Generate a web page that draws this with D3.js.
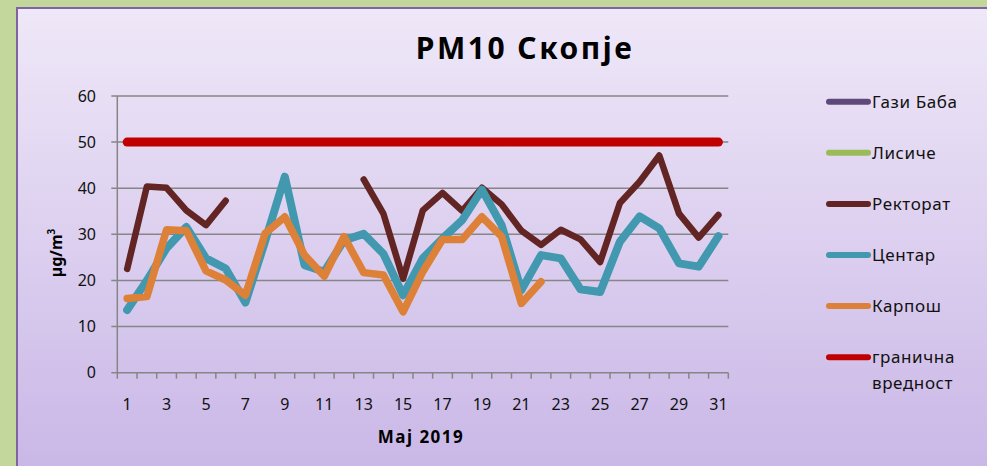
<!DOCTYPE html>
<html>
<head>
<meta charset="utf-8">
<script src="https://cdn.jsdelivr.net/npm/d3@7"></script>
<style>
  body { margin: 0; background: #c3d69b; }
  svg { display: block; font-family: "Comic Sans MS", "Noto Sans", sans-serif; }
</style>
</head>
<body>
<svg id="chart" width="987" height="466"></svg>
<script>
const days = d3.range(1, 32);
const yTicks = [0, 10, 20, 30, 40, 50, 60];

const gaziBaba = days.map(() => null);
const lisice = days.map(() => null);
const rektorat = [22.5, 40.4, 40.1, 35.2, 32.0, 37.3, null, null, null, null, null, null,
  41.9, 34.5, 20.4, 35.2, 39.0, 35.1, 40.1, 36.5, 30.8, 27.7, 31.0, 28.9, 24.0, 36.8,
  41.4, 47.1, 34.5, 29.3, 34.2];
const centar = [13.6, 20.0, 27.0, 31.6, 24.8, 22.6, 15.2, 28.5, 42.5, 23.3, 21.9, 28.7,
  30.1, 25.8, 16.8, 24.8, 29.1, 33.1, 39.7, 32.0, 17.9, 25.5, 24.8, 18.1, 17.5, 28.4,
  33.9, 31.3, 23.7, 23.0, 29.6];
const karpos = [16.1, 16.5, 31.0, 30.8, 22.1, 20.1, 16.8, 30.2, 33.8, 25.5, 20.9, 29.5,
  21.7, 21.2, 13.2, 21.9, 28.9, 28.9, 33.8, 29.5, 15.0, 19.7, null, null, null, null,
  null, null, null, null, null];
const limit = days.map(() => 50);

const series = [
  { name: "Гази Баба", values: gaziBaba, color: "#5f497a", width: 7 },
  { name: "Лисиче", values: lisice, color: "#9bbb59", width: 7 },
  { name: "Ректорат", values: rektorat, color: "#632523", width: 6.5 },
  { name: "Центар", values: centar, color: "#4198af", width: 8 },
  { name: "Карпош", values: karpos, color: "#dd8139", width: 7.5 },
  { name: "гранична|вредност", values: limit, color: "#c00000", width: 9 },
];

const svg = d3.select("#chart");

// panel background
const defs = svg.append("defs");
const grad = defs.append("linearGradient").attr("id", "bg")
  .attr("x1", 0).attr("y1", 0).attr("x2", 0).attr("y2", 1);
grad.append("stop").attr("offset", "0%").attr("stop-color", "#efe8f8");
grad.append("stop").attr("offset", "100%").attr("stop-color", "#c8b5e6");

svg.append("rect")
  .attr("x", 17).attr("y", 8).attr("width", 990).attr("height", 480)
  .attr("fill", "url(#bg)")
  .attr("stroke", "#8064a2").attr("stroke-width", 2);

const plotLeft = 117.3, plotRight = 728.3, plotTop = 96, plotBottom = 372.7;

const x = d3.scaleBand().domain(days).range([plotLeft, plotRight]);
const y = d3.scaleLinear().domain([0, 60]).range([plotBottom, plotTop]);

// gridlines
svg.append("g")
  .selectAll("line")
  .data(yTicks)
  .join("line")
  .attr("x1", plotLeft - 6).attr("x2", plotRight)
  .attr("y1", (d) => y(d)).attr("y2", (d) => y(d))
  .attr("stroke", "#868686").attr("stroke-width", 1.5);

// y axis line
svg.append("line")
  .attr("x1", plotLeft).attr("x2", plotLeft).attr("y1", plotTop).attr("y2", plotBottom)
  .attr("stroke", "#868686").attr("stroke-width", 1.5);

// x ticks at band edges
svg.append("g")
  .selectAll("line")
  .data(d3.range(0, 32))
  .join("line")
  .attr("x1", (i) => plotLeft + i * x.step()).attr("x2", (i) => plotLeft + i * x.step())
  .attr("y1", plotBottom).attr("y2", plotBottom + 6)
  .attr("stroke", "#868686").attr("stroke-width", 1.5);

// y tick labels
svg.append("g")
  .selectAll("text")
  .data(yTicks)
  .join("text")
  .attr("x", 96).attr("y", (d) => y(d))
  .attr("dy", "0.35em")
  .attr("text-anchor", "end")
  .attr("font-size", 16)
  .attr("fill", "#111")
  .text((d) => d);

// x tick labels (odd days)
svg.append("g")
  .selectAll("text")
  .data(days.filter((d) => d % 2 === 1))
  .join("text")
  .attr("x", (d) => x(d) + x.bandwidth() / 2).attr("y", 410)
  .attr("text-anchor", "middle")
  .attr("font-size", 16)
  .attr("fill", "#111")
  .text((d) => d);

// axis titles
svg.append("text")
  .attr("x", 421).attr("y", 443)
  .attr("text-anchor", "middle")
  .attr("font-size", 17).attr("font-weight", "bold")
  .attr("letter-spacing", 1.5)
  .text("Maj 2019");

svg.append("text")
  .attr("transform", "translate(62,253) rotate(-90)")
  .attr("text-anchor", "middle")
  .attr("font-size", 16).attr("font-weight", "bold")
  .html('µg/m<tspan baseline-shift="super" font-size="10">3</tspan>');

svg.append("text")
  .attr("x", 525).attr("y", 59)
  .attr("text-anchor", "middle")
  .attr("font-size", 30).attr("font-weight", "bold")
  .attr("letter-spacing", 2.5)
  .text("PM10 Скопје");

// lines
const line = d3.line()
  .defined((d) => d.v != null)
  .x((d) => x(d.day) + x.bandwidth() / 2)
  .y((d) => y(d.v));

svg.append("g")
  .selectAll("path")
  .data(series)
  .join("path")
  .attr("d", (s) => line(s.values.map((v, i) => ({ day: days[i], v }))))
  .attr("fill", "none")
  .attr("stroke", (s) => s.color)
  .attr("stroke-width", (s) => s.width)
  .attr("stroke-linecap", "round")
  .attr("stroke-linejoin", "round");

// legend
const legend = svg.append("g")
  .selectAll("g")
  .data(series)
  .join("g")
  .attr("transform", (s, i) => `translate(0,${101.7 + i * 51.1})`);

legend.append("line")
  .attr("x1", 829).attr("x2", 868)
  .attr("stroke", (s) => s.color)
  .attr("stroke-width", 6)
  .attr("stroke-linecap", "round");

legend.append("text")
  .attr("x", 872)
  .attr("font-size", 17)
  .attr("letter-spacing", 0.6)
  .attr("fill", "#111")
  .each(function (s) {
    const parts = s.name.split("|");
    d3.select(this).selectAll("tspan")
      .data(parts)
      .join("tspan")
      .attr("x", 872)
      .attr("dy", (p, j) => (j === 0 ? "0.35em" : "1.5em"))
      .text((p) => p);
  });
</script>
</body>
</html>
